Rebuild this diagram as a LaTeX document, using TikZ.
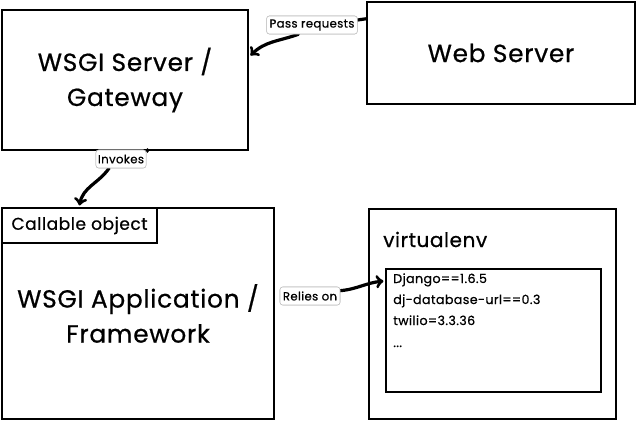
\documentclass[tikz,border=0pt]{standalone}
\usepackage{fontspec}
\setmainfont{Poppins}[LetterSpace=3.0, FakeBold=0.7]
\usepackage{tikz}
\usetikzlibrary{arrows}

\tikzset{
  box/.style={draw=black, line width=1.8pt, fill=white, inner sep=0pt},
  tag/.style={draw=black!25, fill=white, rounded corners=2pt, inner sep=1.5pt,
    minimum height=13.5pt, font=\fontsize{8.8}{10}\selectfont},
  link/.style={line width=2.4pt, line cap=round}
}

\begin{document}
\begin{tikzpicture}[x=0.75pt, y=-0.75pt]
    \useasboundingbox (0,0) rectangle (636,422);

    %  boxes on top row
    \node [box, minimum width=184.5pt, minimum height=105pt, align=center,
      font=\fontsize{18.6}{26.25}\selectfont] (gateway) at (125,80)
      {WSGI Server /\\Gateway};
    \node [box, minimum width=201pt, minimum height=76.5pt,
      font=\fontsize{18.6}{26.25}\selectfont] (web) at (501,53) {Web Server};

    %  application with its callable object
    \node [box, minimum width=204pt, minimum height=158.25pt, align=center,
      font=\fontsize{18.6}{26.25}\selectfont] (app) at (138,313.5)
      {WSGI Application /\\Framework};
    \node [box, minimum width=116.25pt, minimum height=26.25pt,
      font=\fontsize{12.8}{15}\selectfont] (callable) at (79.5,225.5) {Callable object};

    %  virtualenv and its packages
    \node [box, minimum width=185.25pt, minimum height=157.5pt] (venv) at (492.5,314) {};
    \node [anchor=base west, inner sep=0pt, font=\fontsize{15}{17}\selectfont]
      (venvname) at (383,247) {virtualenv};
    \node [box, minimum width=161.25pt, minimum height=92.25pt] (list) at (493.5,330.5) {};
    \node [anchor=base west, inner sep=0pt, font=\fontsize{9.5}{11}\selectfont]
      (pkg1) at (393,283) {Django==1.6.5};
    \node [anchor=base west, inner sep=0pt, font=\fontsize{9.5}{11}\selectfont]
      (pkg2) at (393,304) {dj-database-url==0.3};
    \node [anchor=base west, inner sep=0pt, font=\fontsize{9.5}{11}\selectfont]
      (pkg3) at (393,325) {twilio=3.3.36};
    \node [anchor=base west, inner sep=0pt, font=\fontsize{9.5}{11}\selectfont]
      (pkg4) at (393,347) {...};

    %  connector labels
    \node [tag, minimum width=68pt] (pass) at (312,25) {Pass requests};
    \node [tag, minimum width=37.5pt] (invokes) at (121,159) {Invokes};
    \node [tag, minimum width=45pt] (relies) at (310,296) {Relies on};

    %  connectors
    \draw [link] ([yshift=-13.5pt]web.north west) -- (pass.east |- 0,20);
    \draw [link, -to] (pass.south west) ++(24pt,0) to[out=200, in=45]
      ([yshift=-35pt, xshift=1pt]gateway.north east);
    \draw [link] ([xshift=17pt]gateway.south) -- ([xshift=17pt]gateway.south |- invokes.north);
    \draw [link, -to] ([xshift=10pt]invokes.south west) to[out=235, in=80]
      ([yshift=1pt]callable.north);
    \draw [link, -to] ([yshift=4pt]relies.east) to[out=5, in=185]
      ([yshift=-10pt, xshift=-1pt]list.north west);

    \node [tag, minimum width=68pt] at (pass) {Pass requests};
    \node [tag, minimum width=37.5pt] at (invokes) {Invokes};
    \node [tag, minimum width=45pt] at (relies) {Relies on};
  \end{tikzpicture}
\end{document}
